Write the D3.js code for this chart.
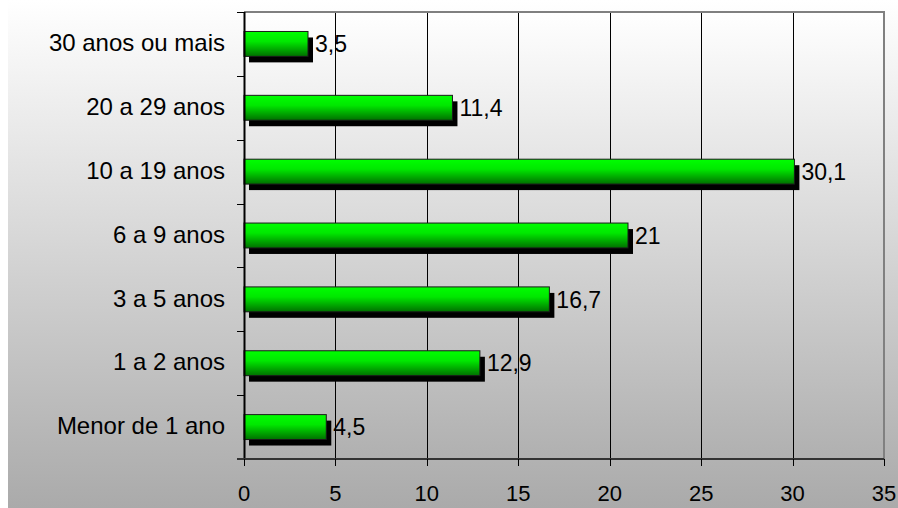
<!DOCTYPE html>
<html>
<head>
<meta charset="utf-8">
<script src="https://cdn.jsdelivr.net/npm/d3@7"></script>
<style>
  body { margin: 0; background: #ffffff; }
  svg text { font-family: "Liberation Sans", Arial, sans-serif; fill: #000; }
</style>
</head>
<body>
<svg id="chart" width="898" height="508"></svg>
<script>
/// data
var categories = ["30 anos ou mais", "20 a 29 anos", "10 a 19 anos", "6 a 9 anos",
                  "3 a 5 anos", "1 a 2 anos", "Menor de 1 ano"];
var values = [3.5, 11.4, 30.1, 21, 16.7, 12.9, 4.5];
var xTicks = [0, 5, 10, 15, 20, 25, 30, 35];

/// dimensions
var W = 898, H = 508;
var margin = {top: 12, right: 14, bottom: 49, left: 244};
var plotW = W - margin.left - margin.right,
    plotH = H - margin.top - margin.bottom;
var shadow = 5;

var svg = d3.select("#chart");

var x = d3.scaleLinear().domain([0, 35]).range([0, plotW]);
var y = d3.scaleBand().domain(categories).range([0, plotH]).paddingInner(0.61).paddingOuter(0.305);

var fmt = v => String(v).replace(".", ",");

// gradients
var defs = svg.append("defs");
var bg = defs.append("linearGradient").attr("id", "bgGrad")
             .attr("x1", 0).attr("y1", 0).attr("x2", 0).attr("y2", 1);
bg.append("stop").attr("offset", "0%").attr("stop-color", "#ffffff");
bg.append("stop").attr("offset", "100%").attr("stop-color", "#aaaaaa");

var pg = defs.append("linearGradient").attr("id", "plotGrad")
             .attr("x1", 0).attr("y1", 0).attr("x2", 0).attr("y2", 1);
pg.append("stop").attr("offset", "0%").attr("stop-color", "#ffffff");
pg.append("stop").attr("offset", "100%").attr("stop-color", "#b0b0b0");

var barGrad = defs.append("linearGradient").attr("id", "barGrad")
                  .attr("x1", 0).attr("y1", 0).attr("x2", 0).attr("y2", 1);
barGrad.append("stop").attr("offset", "0%").attr("stop-color", "#00ff00");
barGrad.append("stop").attr("offset", "40%").attr("stop-color", "#00e800");
barGrad.append("stop").attr("offset", "100%").attr("stop-color", "#007000");

// outer background
svg.append("rect")
   .attr("x", 8).attr("y", 0)
   .attr("width", W - 8).attr("height", H)
   .attr("fill", "url(#bgGrad)");

var g = svg.append("g")
           .attr("transform", "translate(" + margin.left + "," + margin.top + ")");

// plot area
g.append("rect")
 .attr("width", plotW).attr("height", plotH)
 .attr("fill", "url(#plotGrad)");

// vertical grid lines
g.selectAll(".grid")
 .data(xTicks.slice(1, -1))
 .enter()
 .append("line")
 .attr("class", "grid")
 .attr("x1", d => Math.round(x(d)) + 0.5)
 .attr("x2", d => Math.round(x(d)) + 0.5)
 .attr("y1", 0)
 .attr("y2", plotH)
 .attr("stroke", "#000")
 .attr("stroke-width", 1);

// top and right border of plot area
g.append("path")
 .attr("d", "M0,0H" + plotW + "V" + plotH)
 .attr("fill", "none")
 .attr("stroke", "#808080")
 .attr("stroke-width", 2);

// bar shadows
g.selectAll(".shadow")
 .data(values)
 .enter()
 .append("rect")
 .attr("class", "shadow")
 .attr("x", shadow)
 .attr("y", (d, i) => y(categories[i]) + shadow + 1)
 .attr("width", d => x(d))
 .attr("height", y.bandwidth())
 .attr("fill", "#000");

// bars
g.selectAll(".bar")
 .data(values)
 .enter()
 .append("rect")
 .attr("class", "bar")
 .attr("x", 0)
 .attr("y", (d, i) => y(categories[i]))
 .attr("width", d => x(d))
 .attr("height", y.bandwidth())
 .attr("fill", "url(#barGrad)")
 .attr("stroke", "#1a1a1a")
 .attr("stroke-width", 1);

// value labels
g.selectAll(".val")
 .data(values)
 .enter()
 .append("text")
 .attr("class", "val")
 .attr("x", d => x(d) + shadow + 2)
 .attr("y", (d, i) => y(categories[i]) + y.bandwidth() / 2)
 .attr("dy", "0.36em")
 .style("font-size", "23px")
 .text(d => fmt(d));

// y axis
var yAxis = g.append("g");
yAxis.append("line")
     .attr("x1", 0.5).attr("x2", 0.5)
     .attr("y1", 0).attr("y2", plotH)
     .attr("stroke", "#000").attr("stroke-width", 2);

var bounds = d3.range(categories.length + 1).map(i => i * y.step());
yAxis.selectAll(".ytick")
     .data(bounds)
     .enter()
     .append("line")
     .attr("class", "ytick")
     .attr("x1", -7).attr("x2", 0)
     .attr("y1", d => Math.round(d) + 0.5)
     .attr("y2", d => Math.round(d) + 0.5)
     .attr("stroke", "#000");

yAxis.selectAll(".ylab")
     .data(categories)
     .enter()
     .append("text")
     .attr("class", "ylab")
     .attr("x", -19)
     .attr("y", d => y(d) + y.bandwidth() / 2)
     .attr("dy", "0.3em")
     .attr("text-anchor", "end")
     .style("font-size", "24px")
     .text(d => d);

// x axis
var xAxis = g.append("g").attr("transform", "translate(0," + plotH + ")");
xAxis.append("line")
     .attr("x1", -7).attr("x2", plotW)
     .attr("y1", 0).attr("y2", 0)
     .attr("stroke", "#333").attr("stroke-width", 2);

xAxis.selectAll(".xtick")
     .data(xTicks)
     .enter()
     .append("line")
     .attr("class", "xtick")
     .attr("x1", d => Math.round(x(d)) + 0.5)
     .attr("x2", d => Math.round(x(d)) + 0.5)
     .attr("y1", 0).attr("y2", 7)
     .attr("stroke", "#000");

xAxis.selectAll(".xlab")
     .data(xTicks)
     .enter()
     .append("text")
     .attr("class", "xlab")
     .attr("x", d => x(d))
     .attr("y", 42)
     .attr("text-anchor", "middle")
     .style("font-size", "22px")
     .text(d => d);
</script>
</body>
</html>
